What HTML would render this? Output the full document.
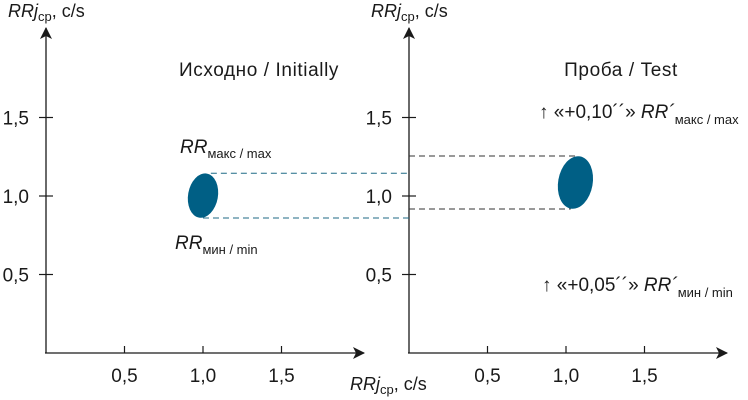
<!DOCTYPE html>
<html><head><meta charset="utf-8"><style>
body{margin:0;background:#fff;}
svg{display:block;font-family:"Liberation Sans","DejaVu Sans",sans-serif;}
text{fill:#1a1a1a;}
</style></head><body>
<svg id="c" width="748" height="400" xmlns="http://www.w3.org/2000/svg">
<defs><marker id="ar" markerWidth="12" markerHeight="12" refX="11" refY="6" orient="auto" markerUnits="userSpaceOnUse"><path d="M0,0 L12,6 L0,12 L3,6 Z" fill="#1a1a1a"/></marker></defs>
</svg>
<script>
const panels=["Исходно / Initially","Проба / Test"];
const ticks=[0.5,1.0,1.5];
const tickLabels=["0,5","1,0","1,5"];
const centerX=[1.0,1.06];
const topY=[1.145,1.255];
const botY=[0.86,0.917];
const halfW=[0.095,0.11];
const origins=[46,409];
const Y0=353, S=157;
const svg=document.getElementById('c');
const NS="http://www.w3.org/2000/svg";
function el(t,a,txt){const e=document.createElementNS(NS,t);for(const k in a)e.setAttribute(k,a[k]);if(txt!==undefined)e.textContent=txt;svg.appendChild(e);return e;}
function sx(p,v){return origins[p]+v*S;}
function sy(v){return Y0-v*S;}
for(let p=0;p<2;p++){
  const o=origins[p];
  let a=el('line',{x1:o,y1:Y0,x2:o,y2:28,stroke:'#1a1a1a','stroke-width':1.3,'marker-end':'url(#ar)'});
  
  a=el('line',{x1:o-1,y1:Y0,x2:o+318,y2:Y0,stroke:'#1a1a1a','stroke-width':1.3,'marker-end':'url(#ar)'});
  
  ticks.forEach((t,i)=>{
    el('line',{x1:sx(p,t),y1:Y0-7,x2:sx(p,t),y2:Y0,stroke:'#1a1a1a','stroke-width':1.2});
    let tl=el('text',{x:sx(p,t),y:Y0+29,'text-anchor':'middle','font-size':19},tickLabels[i]);
    
    el('line',{x1:o-7,y1:sy(t),x2:o+7,y2:sy(t),stroke:'#1a1a1a','stroke-width':1.2});
    tl=el('text',{x:o-17,y:sy(t)+7,'text-anchor':'end','font-size':19},tickLabels[i]);
    
  });
  let yt=el('text',{x:o-38,y:17,'font-size':18});
  yt.innerHTML='<tspan font-style="italic">RRj</tspan><tspan font-size="13" dy="4">ср</tspan><tspan dy="-4">,  c/s</tspan>';
  
  let pt=el('text',{x:p?621:259,y:76,'text-anchor':'middle','font-size':19,'letter-spacing':'0.6'},panels[p]);
  
  const cx=sx(p,centerX[p]), cy=(sy(topY[p])+sy(botY[p]))/2, ry=(sy(botY[p])-sy(topY[p]))/2;
  const e=el('ellipse',{cx:cx,cy:cy,rx:halfW[p]*S,ry:ry,fill:'#005f85',transform:`rotate(10 ${cx} ${cy})`});
  
}
[[0,topY[0],sx(0,1.05),409],[0,botY[0],sx(0,1.0),409],[1,topY[1],409,sx(1,1.07)],[1,botY[1],409,sx(1,1.03)]].forEach(d=>{
  const l=el('line',{x1:d[2],y1:sy(d[1]),x2:d[3],y2:sy(d[1]),stroke:d[0]?'#333':'#1f6a86','stroke-width':1,'stroke-dasharray':'6,4'});
  
});
let t=el('text',{x:180,y:153,'font-size':19});
t.innerHTML='<tspan font-style="italic">RR</tspan><tspan font-size="13" dy="5">макс / max</tspan>';

t=el('text',{x:175,y:249,'font-size':19});
t.innerHTML='<tspan font-style="italic">RR</tspan><tspan font-size="13" dy="5">мин / min</tspan>';

t=el('text',{x:539,y:118,'font-size':19});
t.innerHTML='↑ «+0,10´´»  <tspan font-style="italic">RR´</tspan><tspan font-size="13" dy="6">макс / max</tspan>';

t=el('text',{x:542,y:291,'font-size':19});
t.innerHTML='↑ «+0,05´´»  <tspan font-style="italic">RR´</tspan><tspan font-size="13" dy="6">мин / min</tspan>';

t=el('text',{x:350,y:390,'font-size':18});
t.innerHTML='<tspan font-style="italic">RRj</tspan><tspan font-size="13" dy="4">ср</tspan><tspan dy="-4">,  c/s</tspan>';

</script>
</body></html>
